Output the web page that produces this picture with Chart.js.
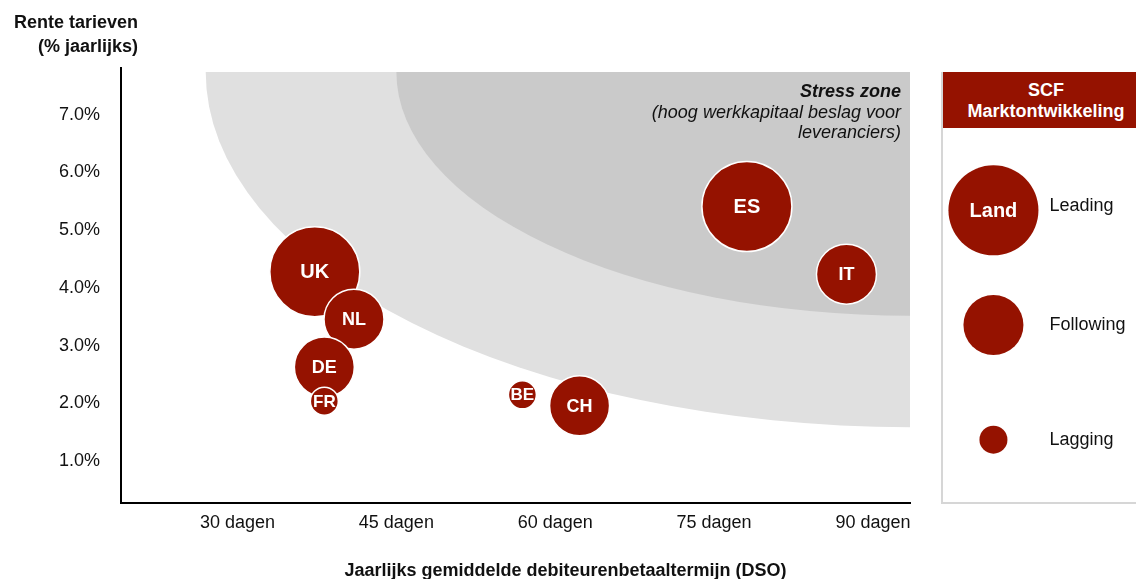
<!DOCTYPE html>
<html lang="nl">
<head>
<meta charset="UTF-8">
<title>SCF Marktontwikkeling</title>
<script src="https://cdn.jsdelivr.net/npm/chart.js"></script>
<style>
    body {
        margin: 0;
        width: 1136px;
        height: 579px;
        overflow: hidden;
        background: #fff;
        font-family: 'Liberation Sans', Arial, sans-serif;
        color: #111;
        position: relative;
    }
    #main { position: absolute; left: 0; top: 0; }
    .ytitle {
        position: absolute; right: calc(1136px - 138px); top: 10px;
        text-align: right; font-weight: bold; font-size: 18px; line-height: 24px;
    }
    .xtitle {
        position: absolute; left: 0; width: 1131px; top: 559px;
        text-align: center; font-weight: bold; font-size: 18px; line-height: 22px;
    }
    .stress {
        position: absolute; right: calc(1136px - 901px); top: 81px;
        text-align: right; font-style: italic; font-size: 18px; line-height: 20.5px;
    }
    .stress b { font-weight: bold; }
    .panel {
        position: absolute; left: 941px; top: 72px; width: 200px; height: 430px;
        border-left: 2px solid #d6d6d6; border-bottom: 2px solid #d6d6d6;
    }
    .panel .head {
        height: 56px; background: #951200; color: #fff;
        font-weight: bold; font-size: 18px; line-height: 21px;
        text-align: center; padding-top: 8px; box-sizing: border-box;
        width: 206px;
    }
    #legend { position: absolute; left: 0; top: 56px; }
</style>
</head>
<body>
<canvas id="main" width="1136" height="579"></canvas>
<div class="ytitle">Rente tarieven<br>(% jaarlijks)</div>
<div class="xtitle">Jaarlijks gemiddelde debiteurenbetaaltermijn (DSO)</div>
<div class="stress"><b>Stress zone</b><br>(hoog werkkapitaal beslag voor<br>leveranciers)</div>
<div class="panel">
    <div class="head">SCF<br>Marktontwikkeling</div>
    <canvas id="legend" width="194" height="374"></canvas>
</div>
<script>
// landen en waarden
const countries   = ['UK', 'NL', 'DE', 'FR', 'BE', 'CH', 'ES', 'IT'];
const dsoDays     = [37.3, 41.0, 38.2, 38.2, 56.9, 62.3, 78.1, 87.5];
const interest    = [4.28, 3.46, 2.63, 2.04, 2.15, 1.96, 5.41, 4.24];
const development = ['Leading', 'Following', 'Following', 'Lagging', 'Lagging', 'Following', 'Leading', 'Following'];

const dsoTicks  = [30, 45, 60, 75, 90];
const rateTicks = [1, 2, 3, 4, 5, 6, 7];
const legendLevels = ['Leading', 'Following', 'Lagging'];

const RED = '#951200';
const radius = { Leading: 45, Following: 30, Lagging: 14 };
const labelFont = { Leading: 20, Following: 18, Lagging: 17 };

// zones: start op de bovenrand (dagen) en einde op de rechterrand (%)
const zones = [
    { fromDso: 27, toRate: 1.59, color: '#e0e0e0' },
    { fromDso: 45, toRate: 3.52, color: '#cacaca' }
];

const FONT = "'Liberation Sans', Arial, sans-serif";
const tickFont = { family: FONT, size: 18 };

const zonePlugin = {
    id: 'zones',
    beforeDatasetsDraw(chart) {
        const { ctx, chartArea: a, scales: { x, y } } = chart;
        const top = a.top + 4;
        ctx.save();
        ctx.beginPath();
        ctx.rect(a.left, top, a.right - a.left, a.bottom - top);
        ctx.clip();
        zones.forEach(z => {
            const cx = a.right;
            const rx = cx - x.getPixelForValue(z.fromDso);
            const ry = y.getPixelForValue(z.toRate) - top;
            ctx.beginPath();
            ctx.moveTo(cx, top);
            ctx.ellipse(cx, top, rx, ry, 0, Math.PI / 2, Math.PI);
            ctx.closePath();
            ctx.fillStyle = z.color;
            ctx.fill();
        });
        ctx.restore();
    }
};

const bubbleLabels = {
    id: 'bubbleLabels',
    afterDatasetsDraw(chart, args, opts) {
        const { ctx } = chart;
        chart.getDatasetMeta(0).data.forEach((el, i) => {
            const raw = chart.data.datasets[0].data[i];
            ctx.save();
            ctx.textBaseline = 'middle';
            if (raw.label) {
                ctx.fillStyle = '#fff';
                ctx.font = 'bold ' + labelFont[raw.dev] + 'px ' + FONT;
                ctx.textAlign = 'center';
                ctx.fillText(raw.label, el.x, el.y + 1);
            }
            if (opts.side) {
                ctx.fillStyle = '#111';
                ctx.font = '18px ' + FONT;
                ctx.textAlign = 'left';
                ctx.fillText(raw.dev, el.x + 56, el.y - (i === 0 ? 4 : 0));
            }
            ctx.restore();
        });
    }
};

const points = countries.map((c, i) => ({
    x: dsoDays[i], y: interest[i], r: radius[development[i]], label: c, dev: development[i]
}));

new Chart(document.getElementById('main'), {
    type: 'bubble',
    data: {
        datasets: [{
            data: points,
            backgroundColor: RED,
            borderColor: '#fff',
            borderWidth: 1.5,
            clip: false
        }]
    },
    options: {
        responsive: false,
        animation: false,
        events: [],
        layout: { autoPadding: false, padding: { top: 68, right: 226, left: 0, bottom: 0 } },
        plugins: { legend: { display: false }, tooltip: { enabled: false }, bubbleLabels: {} },
        scales: {
            x: {
                type: 'linear', min: 19, max: 93.5,
                afterBuildTicks: s => { s.ticks = dsoTicks.map(v => ({ value: v })); },
                afterFit: s => { s.height = 76; },
                grid: { display: false, drawTicks: false },
                border: { color: '#000', width: 2 },
                ticks: { font: tickFont, color: '#111', padding: 9, callback: v => v + ' dagen' }
            },
            y: {
                type: 'linear', min: 0.276, max: 7.81,
                afterBuildTicks: s => { s.ticks = rateTicks.map(v => ({ value: v })); },
                afterFit: s => { s.width = 121; },
                grid: { display: false, drawTicks: false },
                border: { color: '#000', width: 2 },
                ticks: { font: tickFont, color: '#111', padding: 21, callback: v => v.toFixed(1) + '%' }
            }
        }
    },
    plugins: [zonePlugin, bubbleLabels]
});

// legenda
new Chart(document.getElementById('legend'), {
    type: 'bubble',
    data: {
        datasets: [{
            data: legendLevels.map((lv, i) => ({ x: 0.26, y: lv, r: radius[lv], label: i === 0 ? 'Land' : '', dev: lv })),
            backgroundColor: RED,
            borderWidth: 0,
            clip: false
        }]
    },
    options: {
        responsive: false,
        animation: false,
        events: [],
        layout: { autoPadding: false, padding: { top: 25, bottom: 5, left: 0, right: 0 } },
        plugins: { legend: { display: false }, tooltip: { enabled: false }, bubbleLabels: { side: true } },
        scales: {
            x: { type: 'linear', min: 0, max: 1, display: false },
            y: { type: 'category', labels: legendLevels, offset: true, display: false }
        }
    },
    plugins: [bubbleLabels]
});
</script>
</body>
</html>
